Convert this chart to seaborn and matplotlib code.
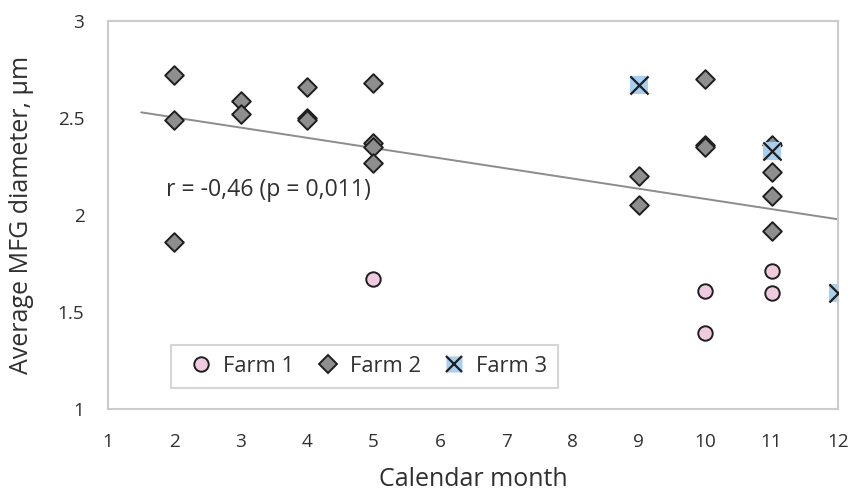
import numpy as np
import matplotlib
matplotlib.use("Agg")
import matplotlib.pyplot as plt
import seaborn as sns
from matplotlib.lines import Line2D
from matplotlib.legend_handler import HandlerTuple

# Average milk fat globule diameter by calendar month, per farm
farm1_month = [5, 10, 10, 11, 11]
farm1_diam = [1.67, 1.61, 1.39, 1.71, 1.60]

farm2_month = [2, 2, 2, 3, 3, 4, 4, 4, 5, 5, 5, 5, 9, 9, 10, 10, 10, 11, 11, 11, 11]
farm2_diam = [2.72, 2.49, 1.86, 2.59, 2.52, 2.66, 2.50, 2.49, 2.68, 2.37, 2.35, 2.27,
              2.20, 2.05, 2.70, 2.36, 2.35, 2.36, 2.22, 2.10, 1.92]

farm3_month = [9, 11, 12]
farm3_diam = [2.67, 2.33, 1.60]

series_names = ["Farm 1", "Farm 2", "Farm 3"]
x_ticks = list(range(1, 13))
y_ticks = [1, 1.5, 2, 2.5, 3]
y_tick_labels = ["1", "1.5", "2", "2.5", "3"]
stat_label = "r = -0,46 (p = 0,011)"
x_title = "Calendar month"
y_title = "Average MFG diameter, µm"

sns.set_style("white")
plt.rcParams["font.family"] = ["Open Sans", "DejaVu Sans"]

TEXT = "#303030"
GRID = "#cccccc"
EDGE = "#1e1e1e"
C1, C2, C3 = "#f0cbe0", "#8e8e8e", "#a6cff0"

fig = plt.figure(figsize=(8.53, 4.92), dpi=100)
ax = fig.add_axes([108 / 853, 1 - 409 / 492, 730 / 853, 388 / 492])

# linear trend over all observations
all_x = np.array(farm1_month + farm2_month + farm3_month, dtype=float)
all_y = np.array(farm1_diam + farm2_diam + farm3_diam, dtype=float)
slope, intercept = np.polyfit(all_x, all_y, 1)
fit_x = np.array([1.5, 12.0])
sns.lineplot(x=fit_x, y=intercept + slope * fit_x, color="#8c8c8c", linewidth=1.4,
             ax=ax, zorder=2)

sns.scatterplot(x=farm1_month, y=farm1_diam, marker="o", s=108, color=C1,
                edgecolor=EDGE, linewidth=1.4, ax=ax, zorder=3)
sns.scatterplot(x=farm2_month, y=farm2_diam, marker="D", s=90, color=C2,
                edgecolor=EDGE, linewidth=1.4, ax=ax, zorder=3)
sns.scatterplot(x=farm3_month, y=farm3_diam, marker="s", s=170, color=C3,
                edgecolor="none", linewidth=0, ax=ax, zorder=4)
sns.scatterplot(x=farm3_month, y=farm3_diam, marker="x", s=170, color=EDGE,
                linewidth=1.6, ax=ax, zorder=5)

ax.text(1.87, 2.129, stat_label, fontsize=16.6, color=TEXT, ha="left", va="center")

ax.set_xlim(1, 12)
ax.set_ylim(1, 3)
ax.set_xticks(x_ticks)
ax.set_yticks(y_ticks)
ax.set_yticklabels(y_tick_labels)
ax.tick_params(direction="inout", length=10, width=1.5, color=GRID,
               labelsize=13.7, labelcolor=TEXT, pad=12)
for sp in ax.spines.values():
    sp.set_visible(True)
    sp.set_color(GRID)
    sp.set_linewidth(1.5)

ax.set_xlabel(x_title, fontsize=18, color=TEXT)
ax.set_ylabel(y_title, fontsize=18, color=TEXT)
ax.xaxis.set_label_coords(0.5, -0.15)
ax.yaxis.set_label_coords(-0.102, 0.5)

h1 = Line2D([], [], linestyle="none", marker="o", markersize=10.4,
            markerfacecolor=C1, markeredgecolor=EDGE, markeredgewidth=1.4)
h2 = Line2D([], [], linestyle="none", marker="D", markersize=9.4,
            markerfacecolor=C2, markeredgecolor=EDGE, markeredgewidth=1.4)
h3a = Line2D([], [], linestyle="none", marker="s", markersize=12,
             markerfacecolor=C3, markeredgecolor="none")
h3b = Line2D([], [], linestyle="none", marker="x", markersize=12,
             markeredgecolor=EDGE, markeredgewidth=1.6)
leg = ax.legend([h1, h2, (h3a, h3b)], series_names,
                handler_map={tuple: HandlerTuple(ndivide=1)},
                loc="lower left", bbox_to_anchor=(0.0859, 0.0549), borderaxespad=0,
                ncol=3, fontsize=15.8, frameon=True, fancybox=False, shadow=False,
                handlelength=1.8, handletextpad=0.1, columnspacing=0.62,
                borderpad=0.5, labelcolor=TEXT)
leg.get_frame().set_edgecolor(GRID)
leg.get_frame().set_linewidth(1.5)
leg.get_frame().set_facecolor("white")

fig.savefig("out.png", dpi=100)
